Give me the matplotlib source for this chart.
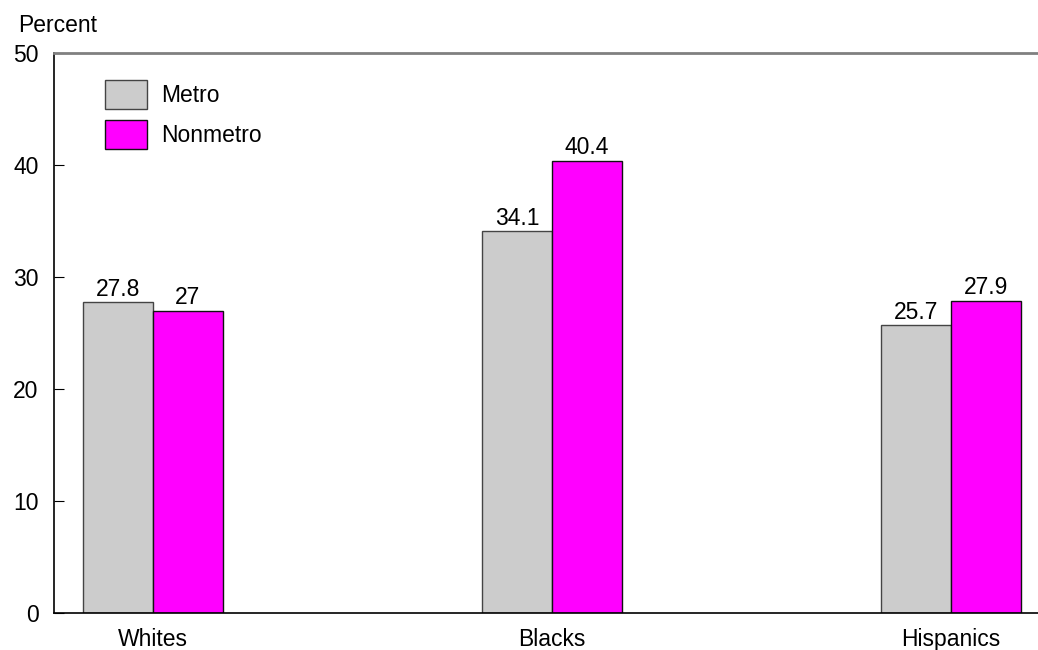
import numpy as np
import matplotlib.pyplot as plt

plt.rcParams['font.family'] = ['Liberation Sans', 'DejaVu Sans']

# Data
groups = ['Whites', 'Blacks', 'Hispanics']
metro = [27.8, 34.1, 25.7]
nonmetro = [27.0, 40.4, 27.9]
metro_labels = ['27.8', '34.1', '25.7']
nonmetro_labels = ['27', '40.4', '27.9']

fs = 16.5

fig = plt.figure(figsize=(10.38, 6.5), dpi=100)
ax = fig.add_axes([54 / 1038, 37 / 650, 984 / 1038, 560 / 650])

x = np.arange(len(groups))
w = 0.175
b1 = ax.bar(x - w / 2, metro, w, color='#cccccc', edgecolor='#444444', linewidth=1, label='Metro')
b2 = ax.bar(x + w / 2, nonmetro, w, color='#ff00ff', edgecolor='#111111', linewidth=1, label='Nonmetro')

# value labels above bars
for bars, labs in ((b1, metro_labels), (b2, nonmetro_labels)):
    for bar, lab in zip(bars, labs):
        ax.text(bar.get_x() + bar.get_width() / 2, bar.get_height() + 0.1, lab,
                ha='center', va='bottom', fontsize=fs)

ax.set_xlim(-0.248, 2.218)
ax.set_ylim(0, 50)
ax.set_yticks([0, 10, 20, 30, 40, 50])
ax.set_xticks(x)
ax.set_xticklabels(groups)
ax.tick_params(axis='y', direction='in', length=7, labelsize=fs, pad=11)
ax.tick_params(axis='x', length=0, labelsize=fs, pad=11)

ax.spines['right'].set_visible(False)
ax.spines['top'].set_color('#808080')
ax.spines['top'].set_linewidth(2)
ax.spines['left'].set_linewidth(1.2)
ax.spines['bottom'].set_linewidth(1.2)

fig.text(18 / 1038, 1 - 32 / 650, 'Percent', fontsize=fs, ha='left', va='baseline')

ax.legend(loc='upper left', bbox_to_anchor=(0.0518, 0.952), frameon=False,
          fontsize=fs, borderpad=0, borderaxespad=0, handlelength=1.83,
          handleheight=1.55, labelspacing=0.52, handletextpad=0.64)

fig.savefig('out.png', dpi=100)
